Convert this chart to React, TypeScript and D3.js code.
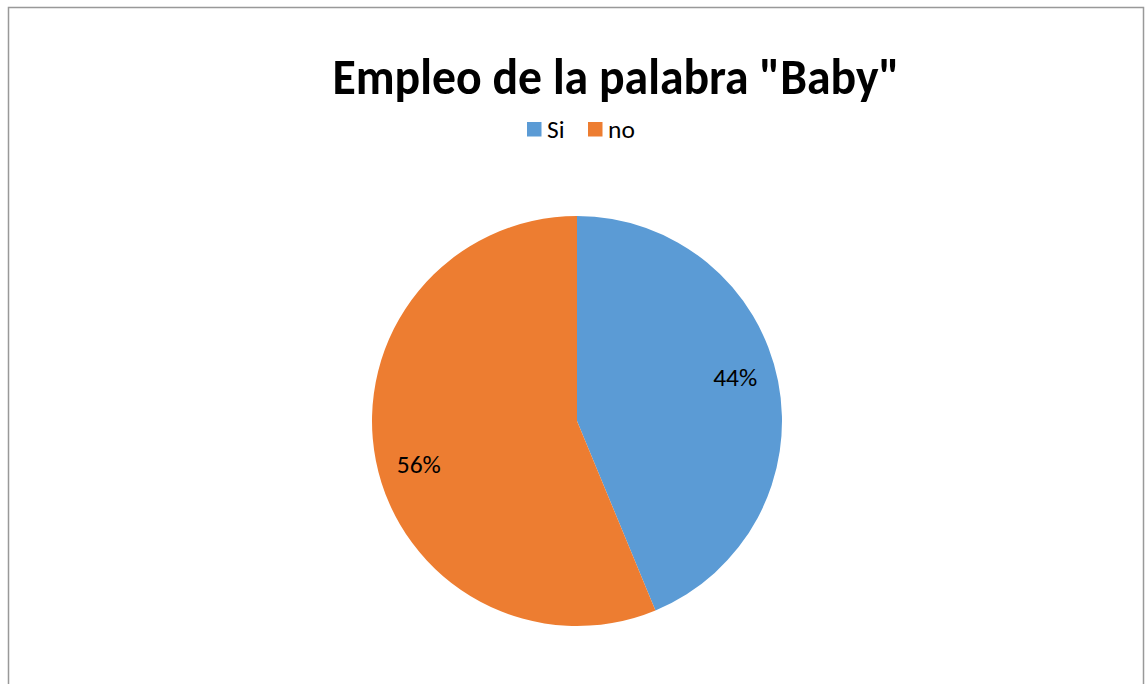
import React, { useRef, useEffect } from "react";
import * as d3 from "d3";

// Data
const categories = ["Si", "no"];
const values = [7, 9];
const colors = ["#5B9BD5", "#ED7D31"];
const title = 'Empleo de la palabra "Baby"';

const WIDTH = 1145;
const HEIGHT = 684;
const CX = 577;
const CY = 421;
const RADIUS = 205;
const LABEL_RADIUS = 164;
const LABEL_SHIFT = (-4 * Math.PI) / 180;
const FONT = "Calibri, Carlito, 'Open Sans', 'Noto Sans', sans-serif";

export default function App() {
  const svgRef = useRef<SVGSVGElement>(null);

  useEffect(() => {
    const svg = d3.select(svgRef.current);
    svg.selectAll("*").remove();

    // chart frame
    svg.append("rect")
      .attr("x", 8.5)
      .attr("y", 7.5)
      .attr("width", 1135)
      .attr("height", 700)
      .attr("fill", "#fff")
      .attr("stroke", "#999")
      .attr("stroke-width", 1.5);

    svg.append("text")
      .attr("x", 616)
      .attr("y", 94)
      .attr("text-anchor", "middle")
      .attr("font-family", FONT)
      .attr("font-weight", "bold")
      .attr("font-size", 50)
      .attr("textLength", 567)
      .attr("lengthAdjust", "spacingAndGlyphs")
      .attr("fill", "#000")
      .text(title);

    // legend
    const legendX = [527, 588];
    categories.forEach((c, i) => {
      svg.append("rect")
        .attr("x", legendX[i])
        .attr("y", 122)
        .attr("width", 14.5)
        .attr("height", 14.5)
        .attr("fill", colors[i]);
      svg.append("text")
        .attr("x", legendX[i] + 20)
        .attr("y", 138)
        .attr("font-family", FONT)
        .attr("font-size", 25.5)
        .attr("fill", "#000")
        .text(c);
    });

    const pie = d3.pie<number>().sort(null).value((d) => d);
    const arcs = pie(values);
    const arc = d3.arc<d3.PieArcDatum<number>>().innerRadius(0).outerRadius(RADIUS);
    const total = d3.sum(values);

    const g = svg.append("g").attr("transform", `translate(${CX},${CY})`);
    g.selectAll("path")
      .data(arcs)
      .enter()
      .append("path")
      .attr("d", arc)
      .attr("fill", (d, i) => colors[i]);

    g.selectAll("text.lbl")
      .data(arcs)
      .enter()
      .append("text")
      .attr("class", "lbl")
      .attr("transform", (d) => {
        const a = (d.startAngle + d.endAngle) / 2 + LABEL_SHIFT;
        return `translate(${LABEL_RADIUS * Math.sin(a)},${-LABEL_RADIUS * Math.cos(a)})`;
      })
      .attr("text-anchor", "middle")
      .attr("dy", "0.33em")
      .attr("font-family", FONT)
      .attr("font-size", 25.5)
      .attr("fill", "#000")
      .text((d) => Math.round((d.value / total) * 100) + "%");
  }, []);

  return (
    <svg
      ref={svgRef}
      width={WIDTH}
      height={HEIGHT}
      style={{ position: "absolute", left: 0, top: 0 }}
    />
  );
}
